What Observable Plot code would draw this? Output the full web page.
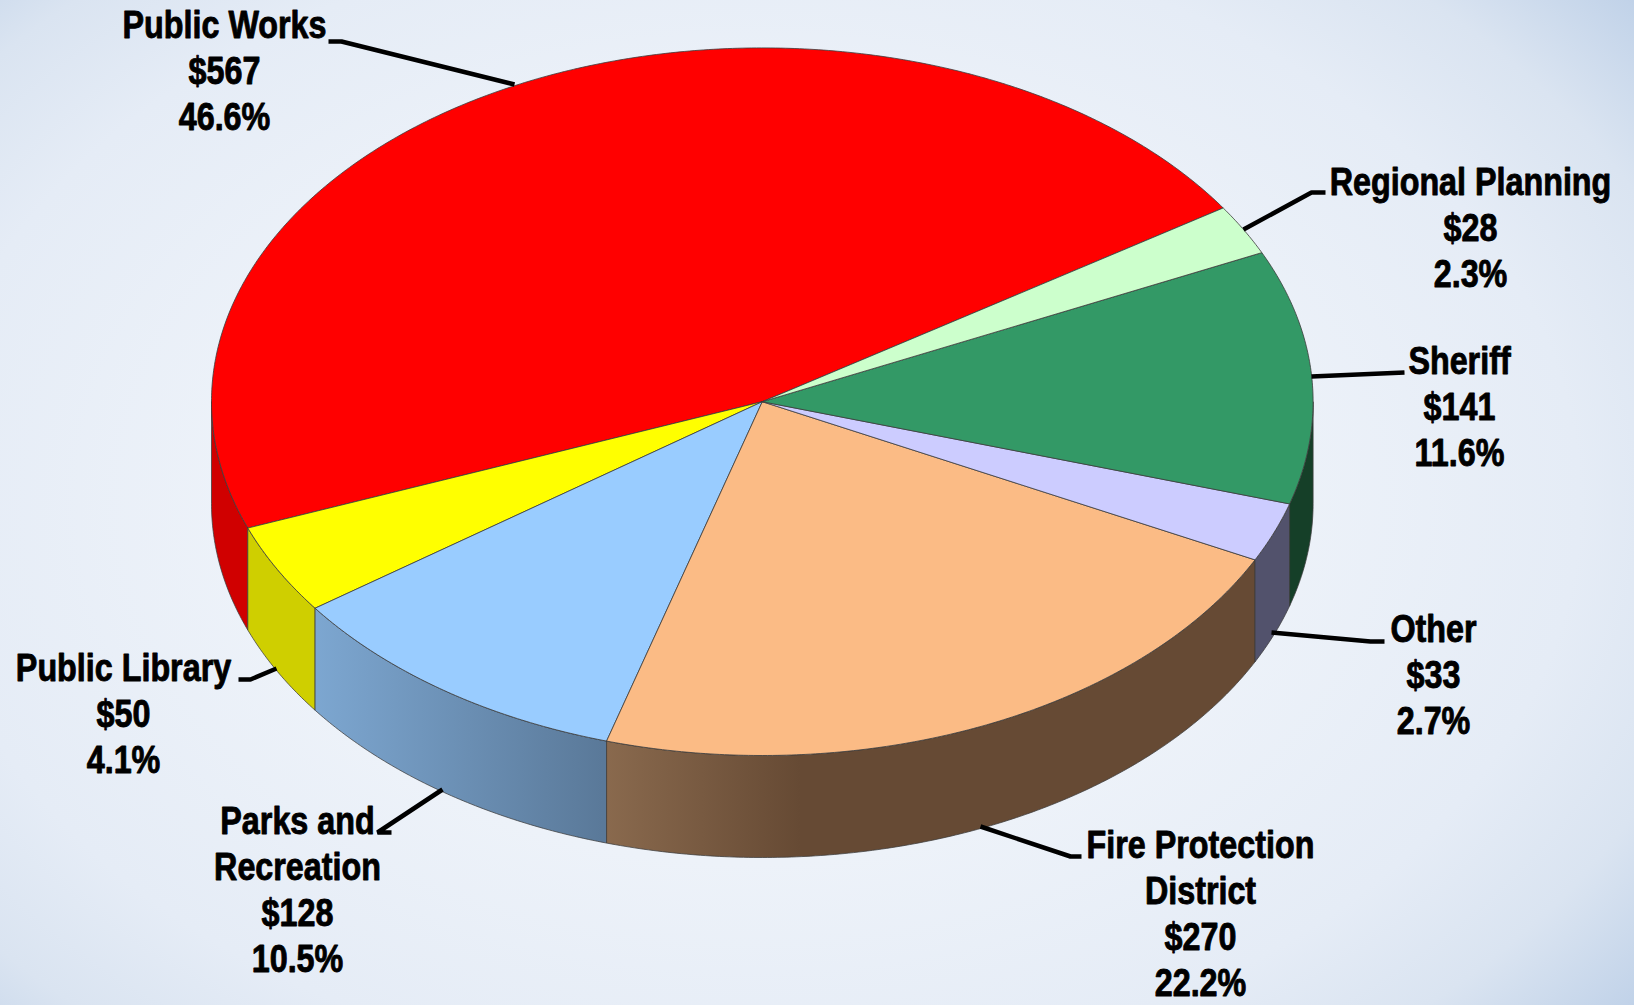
<!DOCTYPE html>
<html>
<head>
<meta charset="utf-8">
<script src="https://cdn.jsdelivr.net/npm/d3@7"></script>
<script src="https://cdn.jsdelivr.net/npm/@observablehq/plot@0.6"></script>
<style>
html,body{margin:0;padding:0;width:1634px;height:1005px;overflow:hidden}
body{background:
  radial-gradient(ellipse 1150px 800px at 46% 50%, #f3f6fc 0%, #edf2f9 45%, #e5ecf6 72%, #dae4f1 86%, #bfd1e8 100%);}
svg{display:block;background:transparent!important}
</style>
</head>
<body>
<div id="chart"></div>
<script>
// Data, counter-clockwise from the top-right edge of Public Works
const categories = ["Public Works","Public Library","Parks and\nRecreation","Fire Protection\nDistrict","Other","Sheriff","Regional Planning"];
const amounts = [567,50,128,270,33,141,28];
const percents = ["46.6%","4.1%","10.5%","22.2%","2.7%","11.6%","2.3%"];

// Styles
const topColors = ["#ff0000","#ffff00","#99ccff","#fbbb85","#ccccff","#339966","#ccffcc"];
const wallColors = ["#d00000","#cfcf00","url(#wallParks)","url(#wallFire)","#52526c","#153f28","#9ab39a"];

// Layout
const W = 1634, H = 1005;
const geom = {cx:761.8, cy:401.2, rx:550.8, ry:353.8, depth:102, start:33.2};
const labelAt = [[224,69],[123,712],[297,888],[1200,912],[1433,673],[1459,405],[1470,226]];
const leaders = [
  [[328,41],[341,41],[514,84]],
  [[238,679],[250,679],[276,668]],
  [[391,832],[377,832],[442,789]],
  [[1081,856],[1070,856],[980,826]],
  [[1384,641],[1370,641],[1271,632]],
  [[1404,372],[1311,376]],
  [[1325,192],[1311,192],[1243,229]]
];

const total = d3.sum(amounts);
const cum = d3.cumsum(amounts);
const rad = d => d*Math.PI/180;
const slices = amounts.map((v,i)=>({
  i,
  a0: geom.start + ((cum[i]-v)/total)*360,
  a1: geom.start + (cum[i]/total)*360
}));
const pt = (a,dy=0)=>({x:geom.cx+geom.rx*Math.cos(rad(a)), y:geom.cy-geom.ry*Math.sin(rad(a))+dy});
const arc = (a0,a1,dy=0)=>{
  const n = Math.max(2,Math.ceil(Math.abs(a1-a0)*2));
  return d3.range(n+1).map(k=>pt(a0+(a1-a0)*k/n,dy));
};
const topPoly = s=>{
  const c={x:geom.cx,y:geom.cy};
  return [c,...arc(s.a0,s.a1),c];
};
// Only the part of a slice in the front half (180..360 deg) shows a wall
const wallPoly = s=>{
  const a0=Math.max(s.a0,180), a1=Math.min(s.a1,360);
  if(a1<=a0) return null;
  const up=arc(a0,a1), down=arc(a1,a0,geom.depth);
  return [...up,...down,up[0]];
};

const defs = ()=>{
  const d = d3.create("svg:defs");
  const grad=(id,x1,x2,c1,c2)=>{
    const g=d.append("linearGradient").attr("id",id).attr("gradientUnits","userSpaceOnUse")
      .attr("x1",x1).attr("x2",x2).attr("y1",0).attr("y2",0);
    g.append("stop").attr("offset",0).attr("stop-color",c1);
    g.append("stop").attr("offset",1).attr("stop-color",c2);
  };
  grad("wallParks",312,602,"#7da7d1","#5a7999");
  grad("wallFire",602,800,"#8a6a4e","#664a34");
  return d.node();
};

const edge = "#3c3c3c";
const marks = [defs];
slices.forEach(s=>{
  const w=wallPoly(s);
  if(w) marks.push(Plot.line(w,{x:"x",y:"y",fill:wallColors[s.i],stroke:edge,strokeWidth:1,strokeOpacity:0.75,curve:"linear"}));
});
slices.forEach(s=>{
  marks.push(Plot.line(topPoly(s),{x:"x",y:"y",fill:topColors[s.i],stroke:edge,strokeWidth:1,strokeOpacity:0.8,curve:"linear"}));
});
leaders.forEach(l=>{
  marks.push(Plot.line(l.map(([x,y])=>({x,y})),{x:"x",y:"y",stroke:"#000",strokeWidth:4.5,strokeLinejoin:"miter",strokeLinecap:"butt",curve:"linear"}));
});
const labels = categories.map((c,i)=>({text:`${c}\n$${amounts[i]}\n${percents[i]}`,x:labelAt[i][0],y:labelAt[i][1]}));
// Condensed heavy look: the labels are narrowed horizontally around their anchor
const narrow = (index,scales,values,dims,ctx,next)=>{
  const g = next(index,scales,values,dims,ctx);
  d3.select(g).selectAll("text").attr("transform",function(){return `${this.getAttribute("transform")||""} scale(0.85,1)`;});
  return g;
};
marks.push(Plot.text(labels,{x:"x",y:"y",text:"text",fontFamily:"'Liberation Sans',sans-serif",fontWeight:700,fontSize:38,lineHeight:46/38,fill:"#000",stroke:"#000",strokeWidth:0.9,textAnchor:"middle",lineAnchor:"middle",render:narrow}));

const plot = Plot.plot({
  width:W,height:H,margin:0,
  style:{background:"transparent"},
  x:{domain:[0,W],range:[0,W],axis:null},
  y:{domain:[0,H],range:[0,H],axis:null},
  marks
});
document.getElementById("chart").appendChild(plot);
</script>
</body>
</html>
